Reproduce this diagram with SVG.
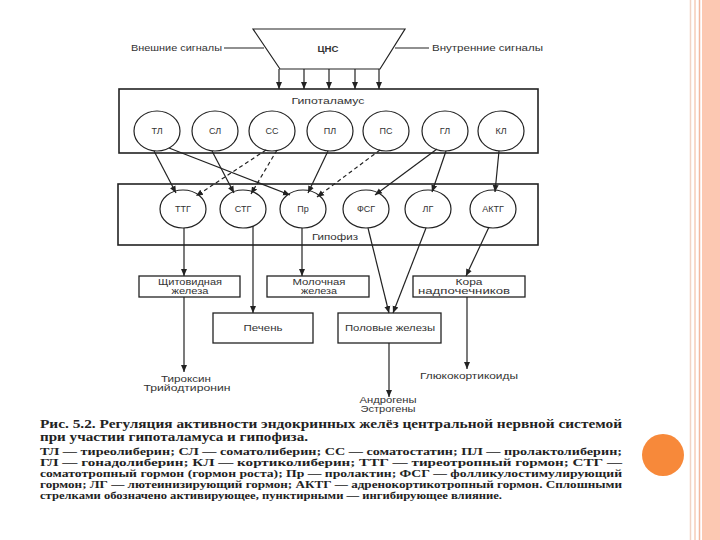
<svg xmlns="http://www.w3.org/2000/svg" width="720" height="540" viewBox="0 0 720 540">
<style>
.box{fill:none;stroke:#222;stroke-width:1.6}
.sbox{fill:#fff;stroke:#222;stroke-width:1.3}
.node{fill:#fff;stroke:#222;stroke-width:1.2}
.lbl{font-family:"Liberation Sans","DejaVu Sans",sans-serif;font-size:9px;fill:#333;text-anchor:middle}
.sl{font-family:"Liberation Sans","DejaVu Sans",sans-serif;font-size:9px;fill:#333}
.ln{stroke:#222;stroke-width:1.2;fill:none}
.act{stroke:#222;stroke-width:1.2;fill:none;marker-end:url(#ah)}
.inh{stroke:#222;stroke-width:1.2;fill:none;stroke-dasharray:4 3;marker-end:url(#ah)}
.cap{font-family:"Liberation Serif","DejaVu Serif",serif;font-weight:bold;fill:#222}
</style>
<defs>
<marker id="ah" markerUnits="userSpaceOnUse" markerWidth="8" markerHeight="8" viewBox="0 0 8 8" refX="7" refY="4" orient="auto">
<path d="M0,1 L7,4 L0,7 Z" fill="#222"/>
</marker>
</defs>
<rect width="720" height="540" fill="#fff"/>
<g id="decor">
<rect x="702" y="0" width="18" height="540" fill="#fcc8b2"/>
<line x1="699.5" y1="0" x2="699.5" y2="540" stroke="#f2b79e" stroke-width="1.5"/>
<line x1="695" y1="0" x2="695" y2="540" stroke="#f8d9ca" stroke-width="2"/>
<line x1="690.5" y1="0" x2="690.5" y2="540" stroke="#f1d3c4" stroke-width="1.5"/>
<circle cx="663" cy="455" r="21" fill="#f7893a"/>
</g>
<g id="cns">
<polygon points="253,29 405,29 380,69 280,69" class="node" stroke-width="1.5"/>
<text x="328" y="52" class="lbl" font-weight="bold" font-size="9" textLength="21" lengthAdjust="spacingAndGlyphs">ЦНС</text>
</g>
<g id="ext-signals"><text x="131" y="51" class="sl" textLength="91" lengthAdjust="spacingAndGlyphs">Внешние сигналы</text></g>
<g id="int-signals"><text x="432" y="51" class="sl" textLength="111" lengthAdjust="spacingAndGlyphs">Внутренние сигналы</text></g>
<g id="hypothalamus">
<rect x="119" y="89" width="419" height="64" class="box"/>
<text x="328" y="104" class="lbl" textLength="73" lengthAdjust="spacingAndGlyphs">Гипоталамус</text>
</g>
<g id="TL"><ellipse cx="157" cy="131" rx="23" ry="20" class="node"/><text x="157" y="134" class="lbl">ТЛ</text></g>
<g id="SL"><ellipse cx="215" cy="131" rx="23" ry="20" class="node"/><text x="215" y="134" class="lbl">СЛ</text></g>
<g id="SS"><ellipse cx="272" cy="131" rx="23" ry="20" class="node"/><text x="272" y="134" class="lbl">СС</text></g>
<g id="PL"><ellipse cx="330" cy="131" rx="23" ry="20" class="node"/><text x="330" y="134" class="lbl">ПЛ</text></g>
<g id="PS"><ellipse cx="386" cy="131" rx="23" ry="20" class="node"/><text x="386" y="134" class="lbl">ПС</text></g>
<g id="GL"><ellipse cx="445" cy="131" rx="23" ry="20" class="node"/><text x="445" y="134" class="lbl">ГЛ</text></g>
<g id="KL"><ellipse cx="501" cy="131" rx="23" ry="20" class="node"/><text x="501" y="134" class="lbl">КЛ</text></g>
<g id="pituitary">
<rect x="118" y="184" width="420" height="61" class="box"/>
<text x="335" y="240" class="lbl" textLength="46" lengthAdjust="spacingAndGlyphs">Гипофиз</text>
</g>
<g id="TTG"><ellipse cx="183" cy="209" rx="23" ry="19" class="node"/><text x="183" y="212" class="lbl">ТТГ</text></g>
<g id="STG"><ellipse cx="243" cy="209" rx="23" ry="19" class="node"/><text x="243" y="212" class="lbl">СТГ</text></g>
<g id="Pr"><ellipse cx="303" cy="209" rx="23" ry="19" class="node"/><text x="303" y="212" class="lbl">Пр</text></g>
<g id="FSG"><ellipse cx="366" cy="209" rx="23" ry="19" class="node"/><text x="366" y="212" class="lbl">ФСГ</text></g>
<g id="LG"><ellipse cx="428" cy="209" rx="23" ry="19" class="node"/><text x="428" y="212" class="lbl">ЛГ</text></g>
<g id="AKTG"><ellipse cx="493" cy="209" rx="23" ry="19" class="node"/><text x="493" y="212" class="lbl">АКТГ</text></g>
<g id="thyroid"><rect x="139" y="276" width="101" height="21" class="sbox"/>
<text x="190" y="285" class="lbl" textLength="64" lengthAdjust="spacingAndGlyphs">Щитовидная</text>
<text x="190" y="294" class="lbl" textLength="37" lengthAdjust="spacingAndGlyphs">железа</text></g>
<g id="mammary"><rect x="267" y="276" width="102" height="21" class="sbox"/>
<text x="319" y="285" class="lbl" textLength="53" lengthAdjust="spacingAndGlyphs">Молочная</text>
<text x="319" y="294" class="lbl" textLength="36" lengthAdjust="spacingAndGlyphs">железа</text></g>
<g id="adrenal"><rect x="413" y="276" width="112" height="21" class="sbox"/>
<text x="469" y="285" class="lbl" textLength="27" lengthAdjust="spacingAndGlyphs">Кора</text>
<text x="464" y="294" class="lbl" textLength="92" lengthAdjust="spacingAndGlyphs">надпочечников</text></g>
<g id="liver"><rect x="213" y="313" width="100" height="30" class="sbox"/>
<text x="263" y="331" class="lbl" textLength="39" lengthAdjust="spacingAndGlyphs">Печень</text></g>
<g id="gonads"><rect x="338" y="313" width="103" height="30" class="sbox"/>
<text x="390" y="331" class="lbl" textLength="90" lengthAdjust="spacingAndGlyphs">Половые железы</text></g>
<g id="out-thyroid">
<text x="186" y="382" class="lbl" textLength="50" lengthAdjust="spacingAndGlyphs">Тироксин</text>
<text x="187" y="391" class="lbl" textLength="87" lengthAdjust="spacingAndGlyphs">Трийодтиронин</text></g>
<g id="out-gonads">
<text x="388" y="403" class="lbl" textLength="57" lengthAdjust="spacingAndGlyphs">Андрогены</text>
<text x="388" y="412" class="lbl" textLength="55" lengthAdjust="spacingAndGlyphs">Эстрогены</text></g>
<g id="out-adrenal">
<text x="469" y="379" class="lbl" textLength="98" lengthAdjust="spacingAndGlyphs">Глюкокортикоиды</text></g>
<g id="connectors">
<line x1="224" y1="48" x2="264" y2="48" class="ln"/>
<line x1="395" y1="48" x2="429" y2="48" class="ln"/>
<line x1="279" y1="69" x2="279" y2="89" class="act"/>
<line x1="304" y1="69" x2="304" y2="89" class="act"/>
<line x1="329" y1="69" x2="329" y2="89" class="act"/>
<line x1="355" y1="69" x2="355" y2="89" class="act"/>
<line x1="379" y1="69" x2="379" y2="89" class="act"/>
<line x1="154" y1="151" x2="176" y2="193" class="act"/>
<line x1="169" y1="148" x2="290" y2="195" class="act"/>
<line x1="212" y1="151" x2="234" y2="193" class="act"/>
<line x1="266" y1="150" x2="196" y2="196" class="inh"/>
<line x1="277" y1="150" x2="251" y2="194" class="inh"/>
<line x1="328" y1="151" x2="308" y2="193" class="act"/>
<line x1="380" y1="150" x2="317" y2="197" class="inh"/>
<line x1="437" y1="149" x2="375" y2="195" class="act"/>
<line x1="446" y1="151" x2="432" y2="192" class="act"/>
<line x1="499" y1="151" x2="495" y2="192" class="act"/>
<line x1="184" y1="228" x2="184" y2="276" class="act"/>
<line x1="253" y1="226" x2="253" y2="313" class="act"/>
<line x1="302" y1="228" x2="302" y2="276" class="act"/>
<line x1="368" y1="228" x2="389" y2="313" class="act"/>
<line x1="426" y1="228" x2="393" y2="313" class="act"/>
<line x1="489" y1="227" x2="466" y2="276" class="act"/>
<line x1="184" y1="297" x2="184" y2="372" class="act"/>
<line x1="389" y1="343" x2="389" y2="397" class="act"/>
<line x1="467" y1="297" x2="467" y2="369" class="act"/>
</g>
<g id="caption">
<text x="40" y="428" class="cap" font-size="12" textLength="582" lengthAdjust="spacingAndGlyphs">Рис. 5.2. Регуляция активности эндокринных желёз центральной нервной системой</text>
<text x="40" y="441" class="cap" font-size="12" textLength="268" lengthAdjust="spacingAndGlyphs">при участии гипоталамуса и гипофиза.</text>
<text x="40" y="455" class="cap" font-size="10.5" textLength="582" lengthAdjust="spacingAndGlyphs">ТЛ — тиреолиберин; СЛ — соматолиберин; СС — соматостатин; ПЛ — пролактолиберин;</text>
<text x="40" y="466" class="cap" font-size="10.5" textLength="582" lengthAdjust="spacingAndGlyphs">ГЛ — гонадолиберин; КЛ — кортиколиберин; ТТГ — тиреотропный гормон; СТГ —</text>
<text x="40" y="477" class="cap" font-size="10.5" textLength="582" lengthAdjust="spacingAndGlyphs">соматотропный гормон (гормон роста); Пр — пролактин; ФСГ — фолликулостимулирующий</text>
<text x="40" y="488" class="cap" font-size="10.5" textLength="582" lengthAdjust="spacingAndGlyphs">гормон; ЛГ — лютеинизирующий гормон; АКТГ — адренокортикотропный гормон. Сплошными</text>
<text x="40" y="499" class="cap" font-size="10.5" textLength="462" lengthAdjust="spacingAndGlyphs">стрелками обозначено активирующее, пунктирными — ингибирующее влияние.</text>
</g>
</svg>
